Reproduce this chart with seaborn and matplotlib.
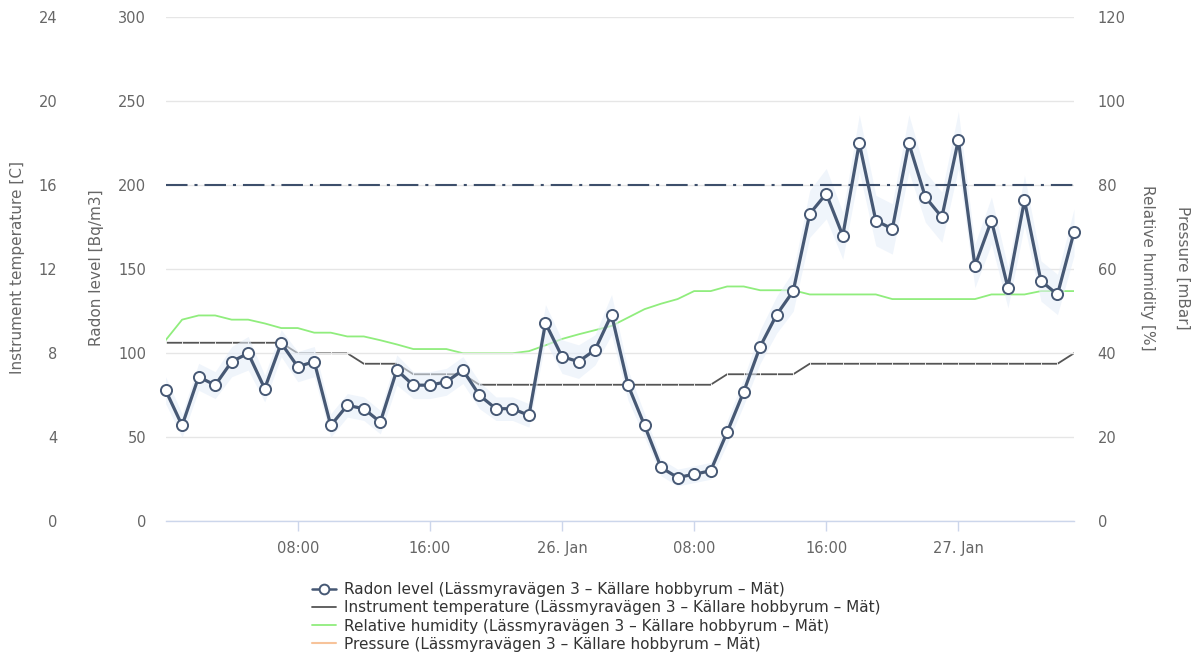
import pandas as pd
import matplotlib
matplotlib.use('Agg')
import matplotlib.pyplot as plt
import seaborn as sns

# hourly readings, 25 Jan 00:00 -> 27 Jan 07:00
radon = [78, 57, 86, 81, 95, 100, 79, 106, 92, 95,
         57, 69, 67, 59, 90, 81, 81, 83, 90, 75,
         67, 67, 63, 118, 98, 95, 102, 123, 81, 57,
         32, 26, 28, 30, 53, 77, 104, 123, 137, 183,
         195, 170, 225, 179, 174, 225, 193, 181, 227, 152,
         179, 139, 191, 143, 135, 172]
radon_err = [8, 7, 8, 8, 9, 10, 8, 8, 9, 9,
             7, 7, 7, 7, 9, 8, 8, 8, 8, 8,
             7, 7, 7, 11, 10, 10, 9, 12, 9, 7,
             5, 5, 5, 5, 7, 8, 10, 11, 12, 14,
             15, 14, 17, 15, 15, 17, 15, 15, 17, 13,
             14, 12, 15, 12, 12, 14]
temperature = [8.5, 8.5, 8.5, 8.5, 8.5, 8.5, 8.5, 8.5, 8.0, 8.0,
               8.0, 8.0, 7.5, 7.5, 7.5, 7.0, 7.0, 7.0, 7.0, 6.5,
               6.5, 6.5, 6.5, 6.5, 6.5, 6.5, 6.5, 6.5, 6.5, 6.5,
               6.5, 6.5, 6.5, 6.5, 7.0, 7.0, 7.0, 7.0, 7.0, 7.5,
               7.5, 7.5, 7.5, 7.5, 7.5, 7.5, 7.5, 7.5, 7.5, 7.5,
               7.5, 7.5, 7.5, 7.5, 7.5, 8.0]
humidity = [43.1, 48.0, 49.0, 49.0, 48.0, 48.0, 47.1, 46.0, 46.0, 44.9,
            44.9, 44.0, 44.0, 43.1, 42.1, 41.0, 41.0, 41.0, 40.0, 40.0,
            40.0, 40.0, 40.5, 41.9, 43.4, 44.5, 45.5, 46.5, 48.5, 50.5,
            51.8, 52.9, 54.8, 54.8, 55.9, 55.9, 55.0, 55.0, 55.0, 54.0,
            54.0, 54.0, 54.0, 54.0, 52.9, 52.9, 52.9, 52.9, 52.9, 52.9,
            54.0, 54.0, 54.0, 54.8, 54.8, 54.8]
pressure = []  # no pressure readings shown in the chart
radon_limit = 200

tick_times = ['2021-01-25 08:00', '2021-01-25 16:00', '2021-01-26 00:00',
              '2021-01-26 08:00', '2021-01-26 16:00', '2021-01-27 00:00']
tick_labels = ['08:00', '16:00', '26. Jan', '08:00', '16:00', '27. Jan']
place = 'Lässmyravägen 3 – Källare hobbyrum – Mät'

times = pd.date_range('2021-01-25 00:00', periods=len(radon), freq='h')
df = pd.DataFrame({'time': times, 'radon': radon, 'err': radon_err,
                   'temp': temperature, 'humidity': humidity})

sns.set_theme(style='white')
plt.rcParams['font.family'] = ['DejaVu Sans']
plt.rcParams['lines.scale_dashes'] = False

label_col = '#666666'
radon_col = '#465874'
fs = 10.5

fig, ax = plt.subplots(figsize=(12, 6.64), dpi=100)
fig.subplots_adjust(left=0.138, right=0.895, top=0.974, bottom=0.215)

# temperature axis (left, outer)
ax_t = ax.twinx()
ax_t.yaxis.set_ticks_position('left')
ax_t.spines['left'].set_position(('outward', 64))
sns.lineplot(data=df, x='time', y='temp', ax=ax_t, color='#555555', lw=1.3,
             marker='|', markersize=2.5, markeredgewidth=0.6)
ax_t.set_ylim(0, 24)
ax_t.set_yticks(range(0, 25, 4))
ax_t.tick_params(axis='y', length=0, pad=14, labelsize=fs, labelcolor=label_col)
ax_t.set_ylabel('')

# humidity axis (right)
ax_h = ax.twinx()
sns.lineplot(data=df, x='time', y='humidity', ax=ax_h, color='#90ed7d', lw=1.3)
ax_h.set_ylim(0, 120)
ax_h.set_yticks(range(0, 121, 20))
ax_h.tick_params(axis='y', length=0, pad=17, labelsize=fs, labelcolor=label_col)
ax_h.set_ylabel('')

# pressure axis (right, outer, no ticks)
ax_p = ax.twinx()
p_line, = ax_p.plot(times[:len(pressure)], pressure, color='#f7c39a', lw=1.5)
ax_p.set_yticks([])

for a in (ax_t, ax_h, ax_p):
    for s in a.spines.values():
        s.set_visible(False)
    a.set_xlabel('')

# radon on top
ax.set_zorder(ax_h.get_zorder() + 5)
ax.patch.set_visible(False)
ax.fill_between(df['time'], df['radon'] - df['err'], df['radon'] + df['err'],
                color='#e4edf9', alpha=0.55, lw=0, zorder=2)
ax.axhline(radon_limit, color='#3d4f6b', lw=1.5, zorder=3,
           linestyle=(0, (15.5, 5, 2.2, 5)))
sns.lineplot(data=df, x='time', y='radon', ax=ax, color=radon_col, lw=2.3,
             marker='o', markersize=8, markerfacecolor='white',
             markeredgecolor=radon_col, markeredgewidth=1.4, zorder=5,
             clip_on=False)
ax.set_ylim(0, 300)
ax.set_yticks(range(0, 301, 50))
ax.set_xlim(times[0], times[-1])
ax.set_xticks(pd.to_datetime(tick_times))
ax.set_xticklabels(tick_labels)
ax.grid(axis='y', color='#e6e6e6', lw=1)
ax.grid(axis='x', visible=False)
ax.tick_params(axis='y', length=0, pad=14, labelsize=fs, labelcolor=label_col)
ax.tick_params(axis='x', bottom=True, length=7, width=1, color='#ccd6eb',
               pad=7, labelsize=fs, labelcolor=label_col)
for name, s in ax.spines.items():
    s.set_visible(name == 'bottom')
ax.spines['bottom'].set_color('#ccd6eb')
ax.spines['bottom'].set_linewidth(1)
ax.set_xlabel('')
ax.set_ylabel('')

# axis titles
yc = 1 - 268 / 664
fig.text(18 / 1200, yc, 'Instrument temperature [C]', rotation=90, ha='center',
         va='center', fontsize=11, color=label_col)
fig.text(97 / 1200, yc, 'Radon level [Bq/m3]', rotation=90, ha='center',
         va='center', fontsize=11, color=label_col)
fig.text(1147 / 1200, yc, 'Relative humidity [%]', rotation=270, ha='center',
         va='center', fontsize=11, color=label_col)
fig.text(1183 / 1200, yc, 'Pressure [mBar]', rotation=270, ha='center',
         va='center', fontsize=11, color=label_col)

handles = [ax.lines[-1], ax_t.lines[-1], ax_h.lines[-1], p_line]
names = [f'Radon level ({place})', f'Instrument temperature ({place})',
         f'Relative humidity ({place})', f'Pressure ({place})']
leg = fig.legend(handles, names, loc='center', bbox_to_anchor=(596 / 1200, 1 - 617 / 664),
                 ncol=1, frameon=False, fontsize=11, handlelength=1.6,
                 handletextpad=0.5, labelspacing=0.2, numpoints=1)
for t in leg.get_texts():
    t.set_color('#333333')
for h in leg.legend_handles:
    h.set_marker('o' if h is leg.legend_handles[0] else '')
leg.legend_handles[0].set_markersize(7)
leg.legend_handles[0].set_linewidth(1.8)

fig.savefig('out.png', dpi=100)
